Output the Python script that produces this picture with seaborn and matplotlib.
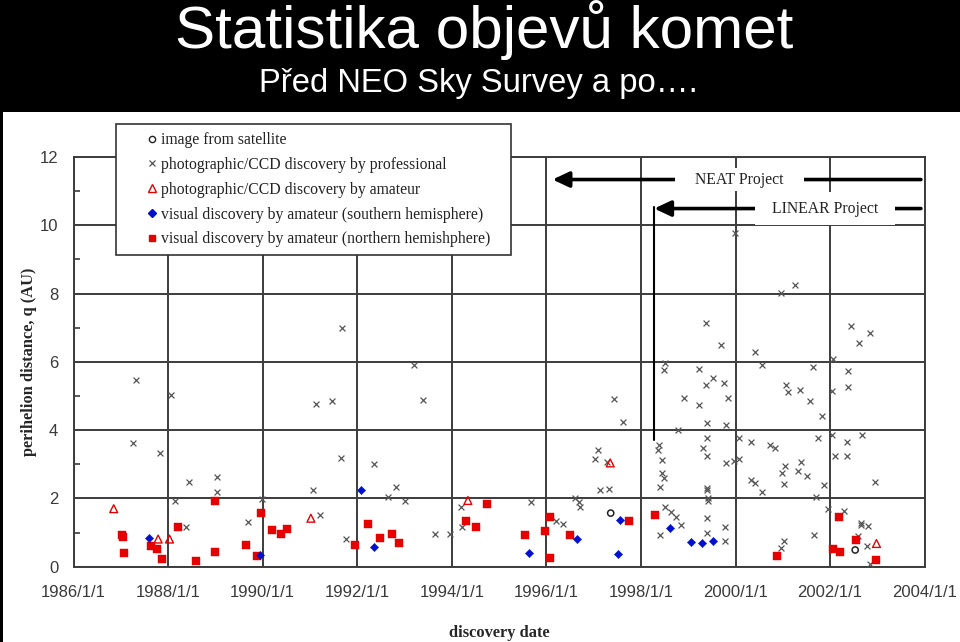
import numpy as np
import pandas as pd
import matplotlib
matplotlib.use("Agg")
import matplotlib.pyplot as plt
import seaborn as sns
from matplotlib.lines import Line2D
from matplotlib.patches import Rectangle

# ---------------- data (decimal year, perihelion distance q in AU) ----------------
sat_year = [1997.36, 2002.53]
sat_q = [1.57, 0.49]

prof_year = [
    1987.25, 1987.83, 1988.44, 1989.04, 1989.04, 1988.14, 1988.38, 1989.69, 1989.98,
    1987.32, 1988.06, 1991.68, 1991.13, 1991.46, 1993.21, 1993.39,
    1991.66, 1992.35, 1991.06, 1992.81, 1992.66, 1993.01, 1991.22, 1991.77, 1993.64,
    1993.96, 1994.19, 1994.21,
    1995.67, 1996.20, 1996.36, 1996.60, 1996.69, 1996.72, 1997.09, 1997.02, 1997.28,
    1997.14, 1997.33, 1997.62, 1997.42,
    1998.79, 1998.38, 1998.37, 1998.45, 1998.45, 1998.48, 1998.40, 1998.50, 1998.64,
    1998.74, 1998.84, 1998.40,
    1999.40, 1999.39, 1999.31, 1999.39, 1999.40, 1999.40, 1999.41, 1999.41, 1999.39,
    1999.39, 1999.79, 1999.79, 1999.77, 1999.77,
    2000.07, 2000.32, 2000.73, 2000.84, 1999.97, 2000.08, 2001.04, 2000.99, 2001.32,
    2001.39, 2001.52, 2000.33, 2000.42, 2001.02, 2000.57, 2001.74, 2001.87, 2001.70,
    2002.05, 2002.36, 2002.67, 2002.10, 2002.36, 2002.94, 2001.95, 2002.30, 2002.65,
    2002.65, 2002.81, 2002.59, 2002.78, 2001.65, 2001.03, 2000.97, 2002.85,
    1999.99, 2000.97, 2001.26, 1999.37, 1999.70, 2000.41, 2000.55, 2002.45, 2002.84,
    2002.61, 2002.06, 2001.64, 2002.37, 2002.37, 2002.03, 2001.07, 2001.10, 2001.37,
    2001.57, 2001.83, 1998.51, 1998.49, 1999.22, 1999.53, 1999.37, 1999.75, 1999.84,
    1998.91, 1999.22,
]
prof_q = [
    3.61, 3.33, 2.48, 2.63, 2.20, 1.91, 1.15, 1.30, 1.98,
    5.47, 5.03, 7.00, 4.78, 4.84, 5.92, 4.87,
    3.18, 3.01, 2.26, 2.32, 2.05, 1.91, 1.52, 0.81, 0.96,
    0.96, 1.74, 1.15,
    1.90, 1.34, 1.26, 2.02, 1.90, 1.76, 3.43, 3.16, 3.08,
    2.24, 2.29, 4.25, 4.91,
    3.99, 3.56, 3.43, 3.12, 2.75, 2.59, 2.32, 1.75, 1.61,
    1.45, 1.22, 0.93,
    4.21, 3.76, 3.49, 3.25, 2.31, 2.24, 2.01, 1.93, 1.43,
    0.98, 4.14, 3.03, 1.16, 0.75,
    3.78, 3.65, 3.56, 3.49, 3.11, 3.16, 2.96, 2.75, 2.79,
    3.06, 2.67, 2.55, 2.45, 2.42, 2.18, 3.77, 2.38, 2.05,
    3.86, 3.65, 3.86, 3.25, 3.25, 2.48, 1.68, 1.62, 1.27,
    1.22, 1.18, 0.90, 0.60, 0.94, 0.76, 0.56, 0.08,
    9.77, 8.02, 8.26, 7.13, 6.48, 6.29, 5.92, 7.06, 6.84,
    6.54, 6.08, 5.86, 5.74, 5.25, 5.15, 5.32, 5.12, 5.19,
    4.84, 4.41, 5.98, 5.76, 5.80, 5.52, 5.31, 5.37, 4.93,
    4.94, 4.73,
]

ama_ccd_year = [1986.85, 1987.79, 1988.03, 1991.02, 1994.34, 1997.35, 2002.98]
ama_ccd_q = [1.70, 0.81, 0.81, 1.42, 1.94, 3.04, 0.68]

south_year = [1987.60, 1989.95, 1992.08, 1992.35, 1995.63, 1996.65, 1997.55, 1997.52,
              1998.62, 1999.05, 1999.29, 1999.53]
south_q = [0.84, 0.33, 2.26, 0.57, 0.41, 0.82, 1.37, 0.37, 1.12, 0.72, 0.69, 0.75]

north_year = [1987.02, 1987.04, 1987.06, 1987.64, 1987.77, 1987.88, 1988.22, 1988.59,
              1988.99, 1988.99, 1989.64, 1989.88, 1989.97, 1990.19, 1990.38, 1990.52,
              1991.96, 1992.23, 1992.49, 1992.73, 1992.89, 1994.29, 1994.51, 1994.74,
              1995.55, 1995.97, 1996.07, 1996.08, 1996.50, 1997.75, 1998.30, 2000.87,
              2002.18, 2002.07, 2002.20, 2002.55, 2002.96]
north_q = [0.93, 0.86, 0.40, 0.62, 0.52, 0.22, 1.17, 0.16,
           1.91, 0.42, 0.64, 0.31, 1.57, 1.08, 0.95, 1.11,
           0.65, 1.25, 0.83, 0.95, 0.68, 1.35, 1.15, 1.84,
           0.92, 1.05, 1.45, 0.25, 0.92, 1.35, 1.50, 0.31,
           1.47, 0.53, 0.43, 0.77, 0.19]

labels = [
    "image from satellite",
    "photographic/CCD discovery by professional",
    "photographic/CCD discovery by amateur",
    "visual discovery by amateur (southern hemisphere)",
    "visual discovery by amateur (northern hemishphere)",
]
x_ticks = [1986, 1988, 1990, 1992, 1994, 1996, 1998, 2000, 2002, 2004]
x_tick_labels = [f"{y}/1/1" for y in x_ticks]
y_ticks = [0, 2, 4, 6, 8, 10, 12]

# annotation anchors (year, q)
neat_tip, neat_tail, neat_q, neat_text_x = 1996.13, 2003.92, 11.34, 2000.08
linear_tip, linear_tail, linear_q, linear_text_x = 1998.28, 2003.92, 10.49, 2001.89
linear_bottom = 3.70

# ---------------- figure ----------------
sns.set_theme(style="white")
plt.rcParams["font.family"] = ["Liberation Sans", "DejaVu Sans"]
SERIF = ["Liberation Serif", "DejaVu Serif"]

fig = plt.figure(figsize=(9.6, 6.42), dpi=100, facecolor="black")
fig.patches.append(Rectangle((3 / 960, 0), 957 / 960, 530 / 642, transform=fig.transFigure,
                             facecolor="white", edgecolor="none", zorder=-5))

fig.text(484 / 960, 1 - 48 / 642, "Statistika objevů komet", color="white",
         fontsize=43.4, ha="center", va="baseline")
fig.text(483 / 960, 1 - 92 / 642, "Před NEO Sky Survey a po…. ", color="white",
         fontsize=23.6, ha="center", va="baseline")

ax = fig.add_axes([73.5 / 960, 1 - 566.7 / 642, (924.7 - 73.5) / 960, (566.7 - 157) / 642])
ax.set_facecolor("white")
ax.set_zorder(1)

GRID = "#3c3c3c"
RED = "#e60000"
BLUE = "#0010d0"
GRAY = "#555555"

df_sat = pd.DataFrame({"year": sat_year, "q": sat_q})
df_prof = pd.DataFrame({"year": prof_year, "q": prof_q})
df_ccd = pd.DataFrame({"year": ama_ccd_year, "q": ama_ccd_q})
df_s = pd.DataFrame({"year": south_year, "q": south_q})
df_n = pd.DataFrame({"year": north_year, "q": north_q})

sns.scatterplot(data=df_prof, x="year", y="q", ax=ax, marker="x", color=GRAY,
                s=18, linewidth=0.9, legend=False, zorder=3)
sns.scatterplot(data=df_n, x="year", y="q", ax=ax, marker="s", color=RED,
                edgecolor=RED, s=32, linewidth=0.3, legend=False, zorder=4)
sns.scatterplot(data=df_s, x="year", y="q", ax=ax, marker="D", color=BLUE,
                edgecolor=BLUE, s=18, linewidth=0.3, legend=False, zorder=4)
sns.scatterplot(data=df_ccd, x="year", y="q", ax=ax, marker="^", color=RED,
                facecolors="none", edgecolor=RED, s=32, linewidth=1.0, legend=False, zorder=4)
sns.scatterplot(data=df_sat, x="year", y="q", ax=ax, marker="o", color="#222222",
                facecolors="none", edgecolor="#222222", s=20, linewidth=1.1, legend=False, zorder=4)

ax.set_xlim(1986, 2004)
ax.set_ylim(0, 12)
ax.set_xticks(x_ticks)
ax.set_xticklabels(x_tick_labels)
ax.set_yticks(y_ticks)
ax.set_yticks(np.arange(1, 12, 2), minor=True)
ax.tick_params(axis="both", which="major", length=0, labelsize=12, labelcolor="#3a3a3a")
ax.tick_params(axis="x", which="major", pad=13)
ax.tick_params(axis="y", which="major", pad=11)
ax.tick_params(axis="y", which="minor", direction="in", length=4, width=1.2, color=GRID, left=True)
ax.set_axisbelow(True)
ax.grid(True, which="major", color=GRID, linewidth=1.4)
for sp in ax.spines.values():
    sp.set_color(GRID)
    sp.set_linewidth(1.4)

ax.set_xlabel("discovery date", fontsize=11.8, fontweight="bold", family=SERIF, labelpad=18)
ax.set_ylabel("perihelion distance, q (AU)", fontsize=11.8, fontweight="bold", family=SERIF,
              labelpad=2)

# annotations
arrow_kw = dict(arrowstyle="-|>,head_length=1.0,head_width=0.47", lw=2.6, color="black",
                shrinkA=0, shrinkB=0, mutation_scale=10)
ax.annotate("", xy=(neat_tip, neat_q), xytext=(neat_tail, neat_q), arrowprops=arrow_kw, zorder=5)
ax.annotate("", xy=(linear_tip, linear_q), xytext=(linear_tail, linear_q), arrowprops=arrow_kw,
            zorder=5)
ax.plot([linear_tip, linear_tip], [linear_q + 0.06, linear_bottom], color="black", lw=1.5, zorder=5)
ax.text(neat_text_x, neat_q, "    NEAT Project    ", ha="center", va="center", family=SERIF,
        fontsize=11.3, color="#222222", zorder=6,
        bbox=dict(facecolor="white", edgecolor="none", boxstyle="square,pad=0.25"))
ax.text(linear_text_x, linear_q, "  LINEAR Project  ", ha="center", va="center", family=SERIF,
        fontsize=11.3, color="#222222", zorder=6,
        bbox=dict(facecolor="white", edgecolor="none", boxstyle="square,pad=0.55"))

# legend
handles = [
    Line2D([], [], ls="", marker="o", mfc="none", mec="#222222", ms=4.5, mew=1.0),
    Line2D([], [], ls="", marker="x", color=GRAY, ms=4, mew=0.9),
    Line2D([], [], ls="", marker="^", mfc="none", mec=RED, ms=5.5, mew=1.0),
    Line2D([], [], ls="", marker="D", mfc=BLUE, mec=BLUE, ms=4),
    Line2D([], [], ls="", marker="s", mfc=RED, mec=RED, ms=5),
]
leg = ax.legend(handles, [lab + "   " for lab in labels], loc="upper left",
                bbox_to_anchor=(116 / 960, 1 - 124 / 642),
                bbox_transform=fig.transFigure, frameon=True, fancybox=False, framealpha=1,
                edgecolor="#333333", prop={"family": SERIF, "size": 11.3}, handlelength=3.55,
                handletextpad=-1.2, labelspacing=0.56, borderpad=0.52, borderaxespad=0)
leg.get_frame().set_linewidth(1.2)
leg.set_zorder(10)
for t in leg.get_texts():
    t.set_color("#222222")

fig.savefig("out.png", dpi=100, facecolor=fig.get_facecolor())
